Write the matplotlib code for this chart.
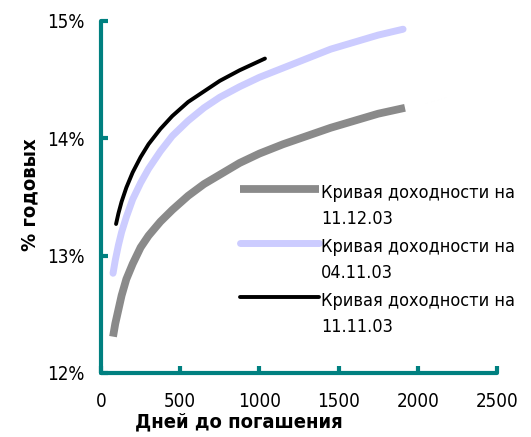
import numpy as np
import matplotlib
matplotlib.use("Agg")
import matplotlib.pyplot as plt
from matplotlib.legend_handler import HandlerLine2D

plt.rcParams['font.family'] = ['DejaVu Sans']
plt.rcParams['font.stretch'] = 'condensed'

# === Data ===
days_1112 = [76, 90, 110, 130, 160, 200, 250, 300, 375, 450, 550, 650, 750, 875,
             1000, 1150, 1300, 1450, 1600, 1750, 1919]
yield_1112 = [12.31, 12.42, 12.54, 12.66, 12.80, 12.93, 13.07, 13.17, 13.29, 13.39, 13.51,
              13.61, 13.69, 13.79, 13.87, 13.95, 14.02, 14.09, 14.15, 14.21, 14.26]

days_0411 = [76, 90, 110, 130, 160, 200, 250, 300, 375, 450, 550, 650, 750, 875,
             1000, 1150, 1300, 1450, 1600, 1750, 1907]
yield_0411 = [12.85, 12.96, 13.09, 13.20, 13.33, 13.48, 13.62, 13.74, 13.89, 14.02, 14.15,
              14.26, 14.35, 14.44, 14.52, 14.60, 14.68, 14.76, 14.82, 14.88, 14.93]

days_1111 = [95, 110, 130, 160, 200, 250, 300, 375, 450, 550, 650, 750, 875, 1035]
yield_1111 = [13.27, 13.36, 13.46, 13.58, 13.71, 13.84, 13.95, 14.08, 14.19, 14.31,
              14.40, 14.49, 14.58, 14.68]

labels = ["Кривая доходности на\n11.12.03",
          "Кривая доходности на\n04.11.03",
          "Кривая доходности на\n11.11.03"]

x_ticks = [0, 500, 1000, 1500, 2000, 2500]
y_ticks = [12, 13, 14, 15]
teal = '#008080'


# legend handle sits next to the first line of the label
class FirstLineHandler(HandlerLine2D):
    def create_artists(self, legend, orig_handle, xdescent, ydescent, width,
                       height, fontsize, trans):
        arts = super().create_artists(legend, orig_handle, xdescent, ydescent,
                                      width, height, fontsize, trans)
        for a in arts:
            a.set_ydata(np.asarray(a.get_ydata()) + 0.98 * fontsize)
        return arts


fig = plt.figure(figsize=(5.31, 4.37), dpi=100)
ax = fig.add_axes([101 / 531, 1 - 373 / 437, 396 / 531, 352 / 437])

l1, = ax.plot(days_1112, yield_1112, color='#8a8a8a', lw=5.6, solid_capstyle='butt')
l2, = ax.plot(days_0411, yield_0411, color='#ccccff', lw=5, solid_capstyle='round')
l3, = ax.plot(days_1111, yield_1111, color='black', lw=2.8, solid_capstyle='round')

ax.set_xlim(0, 2500)
ax.set_ylim(12, 15)
ax.set_xticks(x_ticks)
ax.set_yticks(y_ticks)
ax.set_yticklabels([f"{v}%" for v in y_ticks])

for side in ['top', 'right']:
    ax.spines[side].set_visible(False)
for side in ['left', 'bottom']:
    ax.spines[side].set_color(teal)
    ax.spines[side].set_linewidth(3)
    ax.spines[side].set_capstyle('round')

ax.tick_params(direction='in', length=5, width=3, color=teal, labelsize=13.5)
ax.tick_params(axis='y', pad=12)
ax.tick_params(axis='x', pad=14)

ax.set_xlabel("Дней до погашения", fontsize=14.5, fontweight='bold', va='center')
ax.xaxis.set_label_coords(0.348, -0.139)
ax.set_ylabel("% годовых", fontsize=14.5, fontweight='bold', va='center')
ax.yaxis.set_label_coords(-0.179, 0.506)

leg = fig.legend([l1, l2, l3], labels, loc='upper left',
                 bbox_to_anchor=(240 / 531, 1 - 184 / 437),
                 frameon=False, fontsize=13, handlelength=4.4,
                 handletextpad=0.1, labelspacing=0.58, borderpad=0, borderaxespad=0,
                 handler_map={l1: FirstLineHandler(), l2: FirstLineHandler(), l3: FirstLineHandler()})
for t in leg.get_texts():
    t.set_linespacing(1.54)

fig.savefig("out.png", dpi=100)
